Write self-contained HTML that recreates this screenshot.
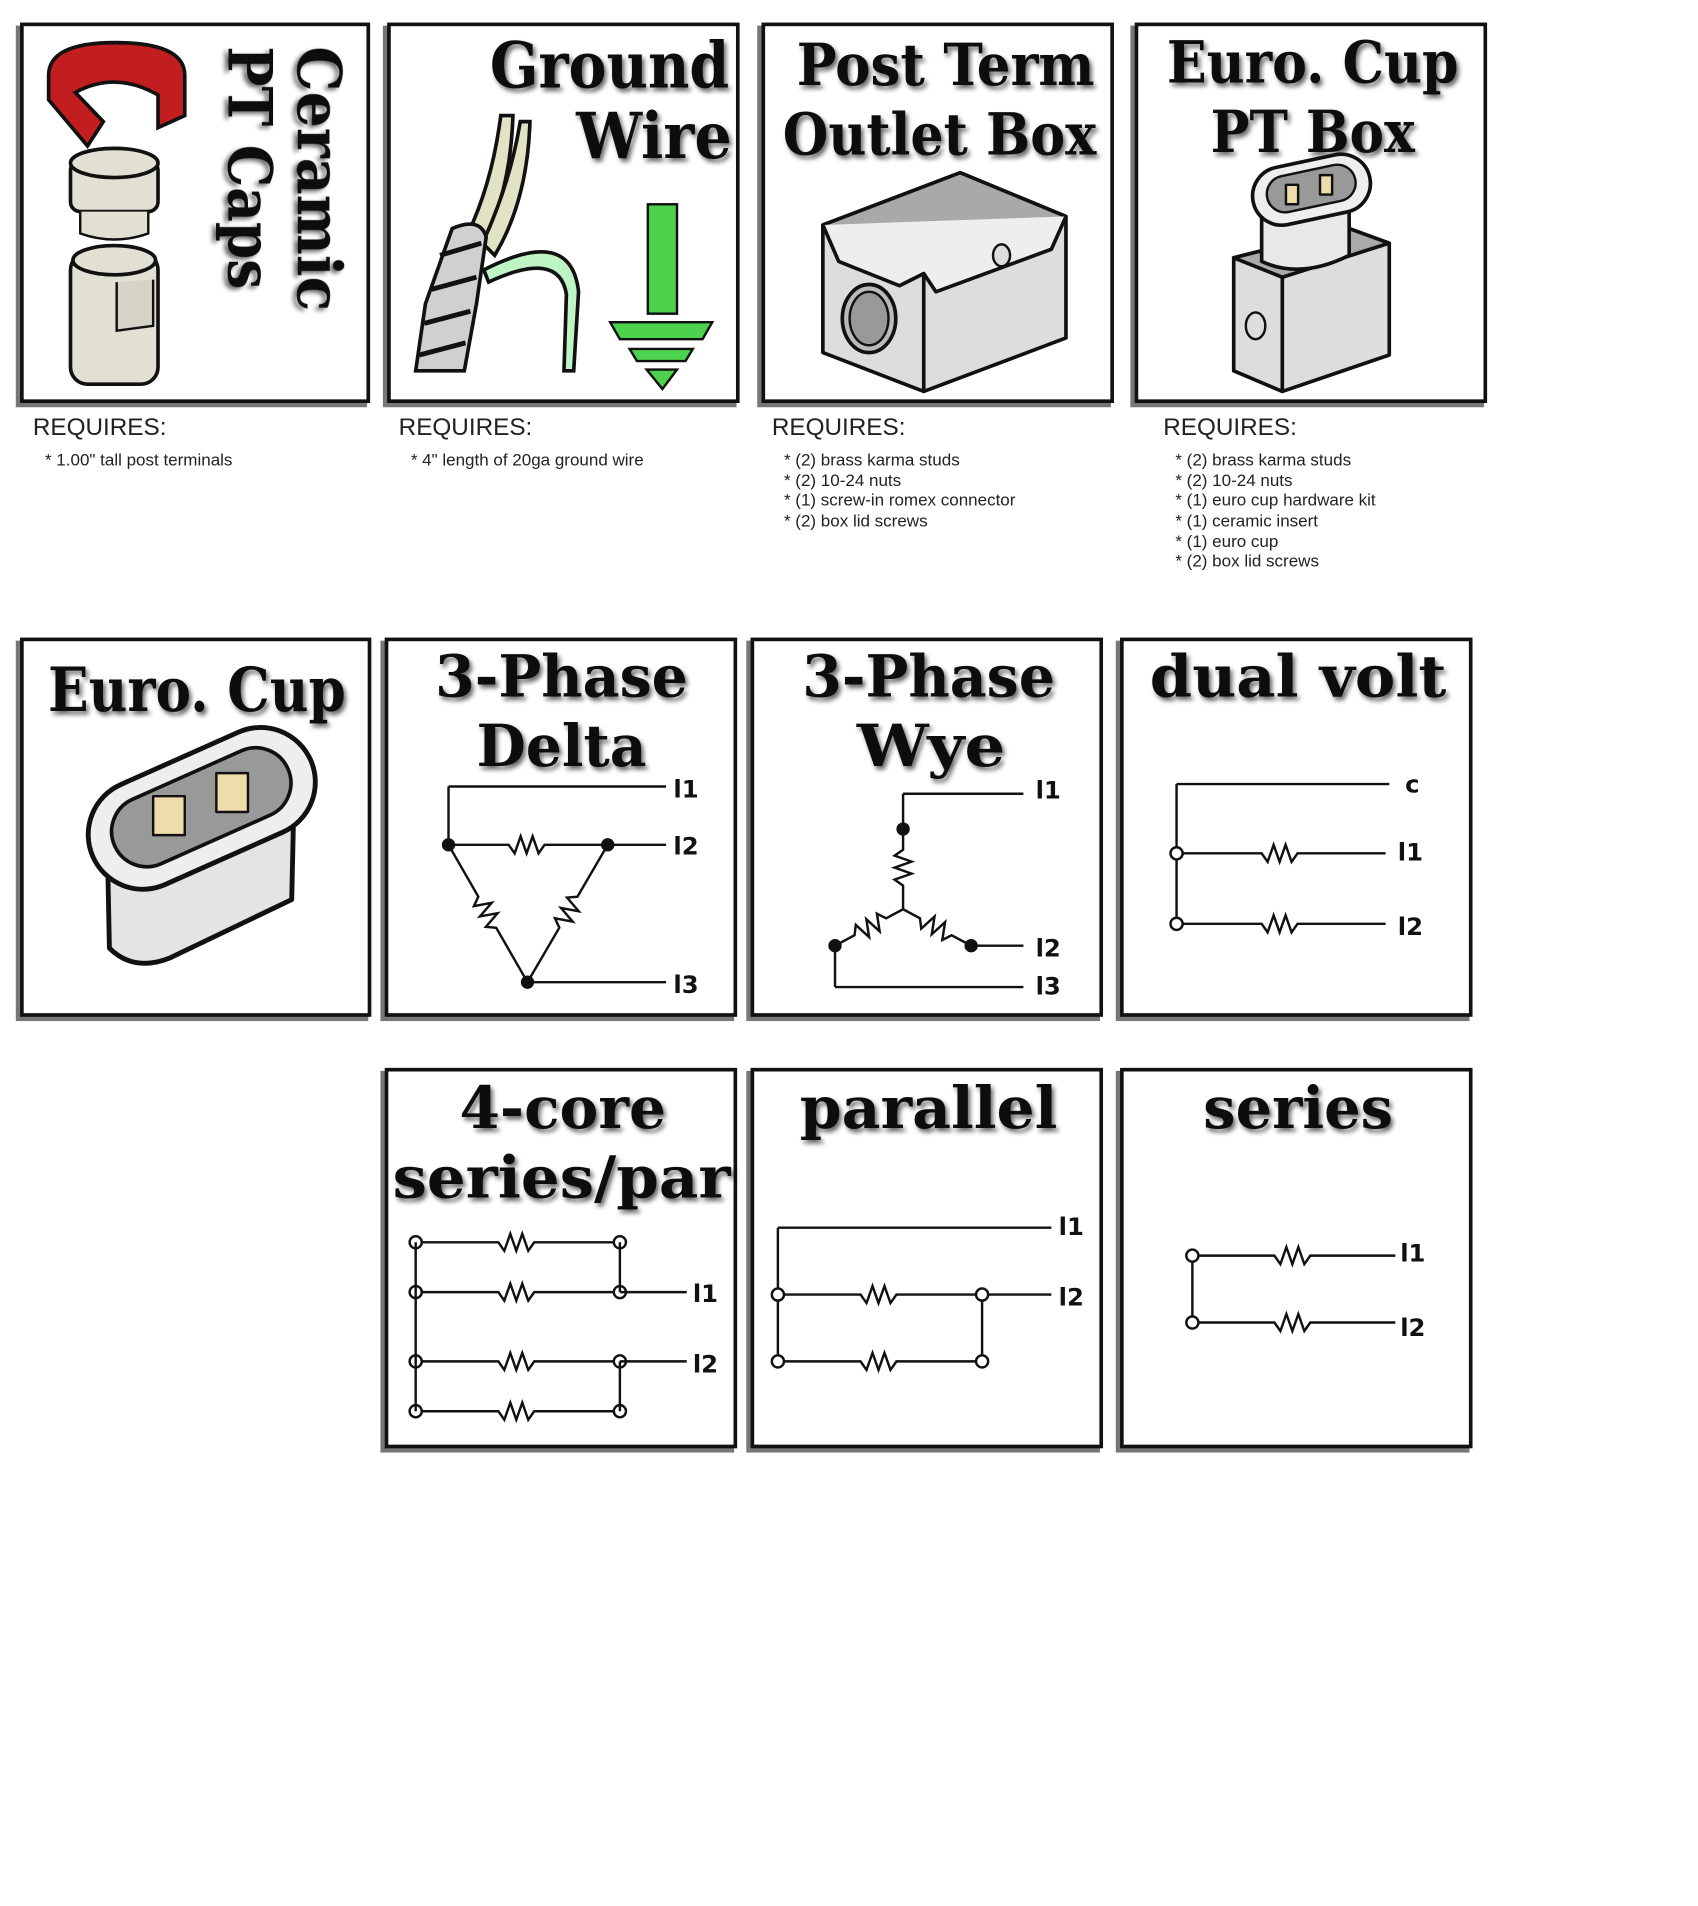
<!DOCTYPE html>
<html><head><meta charset="utf-8"><style>
html,body{margin:0;padding:0;background:#fff;}
svg{display:block;}
.t{font-family:"DejaVu Serif","Liberation Serif",serif;font-weight:bold;fill:#111;}
.r{font-family:"Liberation Sans","DejaVu Sans",sans-serif;fill:#222;}
.lb{font-family:"DejaVu Sans","Liberation Sans",sans-serif;font-weight:bold;fill:#111;font-size:20px;}
.w{stroke:#111;stroke-width:2;fill:none;}
</style></head><body>
<svg id="s" width="1698" height="1906" viewBox="0 0 1397 1568" xmlns="http://www.w3.org/2000/svg">
<defs>
<filter id="sh" x="-10%" y="-10%" width="130%" height="130%"><feGaussianBlur in="SourceAlpha" stdDeviation="2"/><feOffset dx="2" dy="3"/><feComponentTransfer><feFuncA type="linear" slope="0.6"/></feComponentTransfer><feMerge><feMergeNode/><feMergeNode in="SourceGraphic"/></feMerge></filter>
</defs>
<g id="cards"></g>

<!-- Card 1: ceramic caps -->
<g stroke="#111" stroke-width="3">
<path d="M40,62 Q40,35 95,35 Q152,35 152,62 L152,95 L130,105 L130,78 Q95,58 62,76 L85,100 L72,120 L40,82 Z" fill="#c21d1f"/>
<path d="M62,76 Q95,58 130,78" fill="none" stroke-width="2"/>
<rect x="58" y="132" width="72" height="42" rx="8" fill="#e2e0d3"/>
<ellipse cx="94" cy="134" rx="36" ry="12" fill="#e2e0d3"/>
<path d="M66,174 L66,192 Q94,202 122,192 L122,174" fill="#e2e0d3" stroke-width="2"/>
<rect x="58" y="208" width="72" height="108" rx="14" fill="#e2e0d3"/>
<ellipse cx="94" cy="214" rx="34" ry="12" fill="#e2e0d3"/>
<path d="M96,232 L96,272 L126,268 L126,230" fill="#d6d4c6" stroke-width="2"/>
</g>
<text class="t" font-size="50" transform="translate(245,38) rotate(90)" textLength="218" lengthAdjust="spacingAndGlyphs" filter="url(#sh)">Ceramic</text>
<text class="t" font-size="50" transform="translate(188,38) rotate(90)" textLength="200" lengthAdjust="spacingAndGlyphs" filter="url(#sh)">PT Caps</text>

<!-- Card 2: ground wire -->
<text class="t" font-size="52" x="600" y="72" text-anchor="end" textLength="197" lengthAdjust="spacingAndGlyphs" filter="url(#sh)">Ground</text>
<text class="t" font-size="52" x="602" y="130" text-anchor="end" textLength="128" lengthAdjust="spacingAndGlyphs" filter="url(#sh)">Wire</text>
<g stroke="#111" stroke-width="3">
<path d="M385,192 Q405,150 412,95 L422,95 Q420,160 395,205 Z" fill="#e2e2c4"/>
<path d="M397,200 Q420,150 428,100 L436,100 Q434,165 407,210 Z" fill="#e2e2c4"/>
<path d="M372,188 Q395,178 400,195 L392,250 L382,305 L342,305 L350,250 Z" fill="#d0d0d0"/>
<path d="M398,222 Q470,185 476,240 L472,305 L464,305 L466,242 Q460,205 402,232 Z" fill="#bff5c5"/>
<path d="M362,210 L396,200 M355,238 L392,228 M349,266 L387,256 M345,292 L383,282" stroke-width="4"/>
<rect x="533" y="168" width="24" height="90" fill="#4cd24c" stroke-width="2"/>
<path d="M502,265 L586,265 L578,279 L510,279 Z M518,287 L570,287 L564,297 L524,297 Z M532,304 L557,304 L545,320 Z" fill="#4cd24c" stroke-width="2"/>
</g>

<!-- Card 3: outlet box -->
<text class="t" font-size="48" x="778" y="70" text-anchor="middle" textLength="245" lengthAdjust="spacingAndGlyphs" filter="url(#sh)">Post Term</text>
<text class="t" font-size="48" x="773" y="127" text-anchor="middle" textLength="258" lengthAdjust="spacingAndGlyphs" filter="url(#sh)">Outlet Box</text>
<g stroke="#111" stroke-width="3" stroke-linejoin="round">
<path d="M677,185 L790,142 L877,178 L877,278 L760,322 L677,290 Z" fill="#ddd"/>
<path d="M677,185 L790,142 L877,178 L760,225 Z" fill="#a9a9a9"/>
<path d="M760,225 L760,322" />
<path d="M677,185 L690,215 L740,235 L760,225 L770,240 L865,205 L877,178" fill="#eee"/>
<ellipse cx="715" cy="262" rx="22" ry="28" fill="#bbb"/>
<ellipse cx="715" cy="262" rx="16" ry="22" fill="#999" stroke-width="2"/>
<ellipse cx="824" cy="210" rx="7" ry="9" fill="#ddd" stroke-width="2"/>
</g>

<!-- Card 4: euro cup PT box -->
<text class="t" font-size="48" x="1080" y="68" text-anchor="middle" textLength="240" lengthAdjust="spacingAndGlyphs" filter="url(#sh)">Euro. Cup</text>
<text class="t" font-size="48" x="1080" y="125" text-anchor="middle" textLength="168" lengthAdjust="spacingAndGlyphs" filter="url(#sh)">PT Box</text>
<g stroke="#111" stroke-width="3" stroke-linejoin="round">
<path d="M1015,212 L1110,188 L1143,200 L1143,292 L1055,322 L1015,305 Z" fill="#ddd"/>
<path d="M1015,212 L1110,188 L1143,200 L1055,228 Z" fill="#aaa"/>
<path d="M1055,228 L1055,322"/>
<path d="M1038,160 L1038,215 Q1070,230 1110,210 L1110,150 Z" fill="#e8e8e8"/>
<rect x="1030" y="132" width="98" height="48" rx="24" transform="rotate(-12 1079 156)" fill="#eee"/>
<rect x="1042" y="140" width="74" height="30" rx="15" transform="rotate(-12 1079 156)" fill="#999" stroke-width="2"/>
<rect x="1058" y="152" width="10" height="16" fill="#eedcab" stroke-width="2"/>
<rect x="1086" y="144" width="10" height="16" fill="#eedcab" stroke-width="2"/>
<ellipse cx="1033" cy="268" rx="8" ry="11" fill="#ddd" stroke-width="2"/>
</g>

<!-- requires text -->
<g class="r">
<text x="27" y="358" font-size="20">REQUIRES:</text>
<text x="37" y="383" font-size="14">* 1.00" tall post terminals</text>
</g>
<g class="r">
<text x="328" y="358" font-size="20">REQUIRES:</text>
<text x="338" y="383" font-size="14">* 4" length of 20ga ground wire</text>
</g>
<g class="r">
<text x="635" y="358" font-size="20">REQUIRES:</text>
<text x="645" y="383" font-size="14">* (2) brass karma studs</text>
<text x="645" y="400" font-size="14">* (2) 10-24 nuts</text>
<text x="645" y="416" font-size="14">* (1) screw-in romex connector</text>
<text x="645" y="433" font-size="14">* (2) box lid screws</text>
</g>
<g class="r">
<text x="957" y="358" font-size="20">REQUIRES:</text>
<text x="967" y="383" font-size="14">* (2) brass karma studs</text>
<text x="967" y="400" font-size="14">* (2) 10-24 nuts</text>
<text x="967" y="416" font-size="14">* (1) euro cup hardware kit</text>
<text x="967" y="433" font-size="14">* (1) ceramic insert</text>
<text x="967" y="450" font-size="14">* (1) euro cup</text>
<text x="967" y="466" font-size="14">* (2) box lid screws</text>
</g>

<!-- Row 2 -->
<text class="t" font-size="50" x="162" y="585" text-anchor="middle" textLength="245" lengthAdjust="spacingAndGlyphs" filter="url(#sh)">Euro. Cup</text>
<g stroke="#111" stroke-width="4" stroke-linejoin="round">
<path d="M88,680 L90,780 Q110,800 140,788 L240,740 L242,650 Z" fill="#e4e4e4"/>
<rect x="68" y="620" width="196" height="90" rx="45" transform="rotate(-24 166 665)" fill="#eee"/>
<rect x="88" y="635" width="156" height="58" rx="29" transform="rotate(-24 166 665)" fill="#999" stroke-width="3"/>
<rect x="126" y="655" width="26" height="32" fill="#eedcab" stroke-width="2"/>
<rect x="178" y="636" width="26" height="32" fill="#eedcab" stroke-width="2"/>
</g>
<text class="t" font-size="48" x="462" y="573" text-anchor="middle" textLength="208" lengthAdjust="spacingAndGlyphs" filter="url(#sh)">3-Phase</text>
<text class="t" font-size="48" x="462" y="630" text-anchor="middle" textLength="140" lengthAdjust="spacingAndGlyphs" filter="url(#sh)">Delta</text>
<text class="t" font-size="48" x="764" y="573" text-anchor="middle" textLength="208" lengthAdjust="spacingAndGlyphs" filter="url(#sh)">3-Phase</text>
<text class="t" font-size="48" x="766" y="630" text-anchor="middle" textLength="122" lengthAdjust="spacingAndGlyphs" filter="url(#sh)">Wye</text>
<text class="t" font-size="48" x="1068" y="573" text-anchor="middle" textLength="244" lengthAdjust="spacingAndGlyphs" filter="url(#sh)">dual volt</text>

<!-- Row 3 -->
<text class="t" font-size="48" x="463" y="928" text-anchor="middle" textLength="170" lengthAdjust="spacingAndGlyphs" filter="url(#sh)">4-core</text>
<text class="t" font-size="48" x="462" y="985" text-anchor="middle" textLength="278" lengthAdjust="spacingAndGlyphs" filter="url(#sh)">series/par</text>
<text class="t" font-size="48" x="764" y="928" text-anchor="middle" textLength="212" lengthAdjust="spacingAndGlyphs" filter="url(#sh)">parallel</text>
<text class="t" font-size="48" x="1068" y="928" text-anchor="middle" textLength="156" lengthAdjust="spacingAndGlyphs" filter="url(#sh)">series</text>

<g id="circ" class="w"></g>
<g id="labs"></g>
</svg>
<script>
var NS='http://www.w3.org/2000/svg';
var cardBoxes=[[18,20,285,310],[320,20,287,310],[628,20,287,310],[935,20,287,310],
[18,526,286,309],[318,526,287,309],[619,526,287,309],[923,526,287,309],
[318,880,287,310],[619,880,287,310],[923,880,287,310]];
var cardNames=['ceramic-caps-card','ground-wire-card','outlet-box-card','euro-cup-pt-box-card','euro-cup-card','delta-card','wye-card','dual-volt-card','four-core-card','parallel-card','series-card'];
var cg=document.getElementById('cards');
cardBoxes.forEach(function(b,i){
  var s=document.createElementNS(NS,'rect');
  s.setAttribute('x',b[0]-3);s.setAttribute('y',b[1]+3);s.setAttribute('width',b[2]);s.setAttribute('height',b[3]);
  s.setAttribute('fill','none');s.setAttribute('stroke','#777');s.setAttribute('stroke-width','4');
  
  
  cg.appendChild(s);
  var r=document.createElementNS(NS,'rect');
  r.setAttribute('x',b[0]);r.setAttribute('y',b[1]);r.setAttribute('width',b[2]);r.setAttribute('height',b[3]);
  r.setAttribute('fill','#fff');r.setAttribute('stroke','#111');r.setAttribute('stroke-width','3');
  
  
  cg.appendChild(r);
});
var g=document.getElementById('circ');
function path(d,name){var p=document.createElementNS(NS,'path');p.setAttribute('d',d);
  
  
  g.appendChild(p);}
function zig(x1,y1,x2,y2){
  var dx=x2-x1,dy=y2-y1,L=Math.hypot(dx,dy),ux=dx/L,uy=dy/L,nx=-uy,ny=ux;
  var mid=L/2,half=16,d='M'+x1+','+y1;
  var a=mid-half;d+=' L'+(x1+ux*a)+','+(y1+uy*a);
  for(var k=1;k<=6;k++){var t=a+k*(2*half/6.5);var o=(k%2?7:-7);if(k==6)o=0;
    d+=' L'+(x1+ux*t+nx*o)+','+(y1+uy*t+ny*o);}
  d+=' L'+x2+','+y2;return d;}
function res(x1,y1,x2,y2){path(zig(x1,y1,x2,y2),'resistor');}
function line(x1,y1,x2,y2){path('M'+x1+','+y1+' L'+x2+','+y2,'wire');}
function dot(x,y,open){var c=document.createElementNS(NS,'circle');c.setAttribute('cx',x);c.setAttribute('cy',y);c.setAttribute('r',open?5:4.5);
  c.setAttribute('fill',open?'#fff':'#111');
  
  
  g.appendChild(c);}
function lab(x,y,t){var e=document.createElementNS(NS,'text');e.setAttribute('x',x);e.setAttribute('y',y);e.setAttribute('class','lb');e.textContent=t;
  
  
  document.getElementById('labs').appendChild(e);}
line(369,695,369,647);line(369,647,548,647);res(369,695,500,695);line(500,695,548,695);
res(369,695,434,808);res(500,695,434,808);line(434,808,548,808);
dot(369,695);dot(500,695);dot(434,808);
lab(554,656,'l1');lab(554,703,'l2');lab(554,817,'l3');
line(743,682,743,653);line(743,653,842,653);res(743,682,743,748);res(743,748,687,778);res(743,748,799,778);
line(799,778,842,778);line(687,778,687,812);line(687,812,842,812);
dot(743,682);dot(687,778);dot(799,778);
lab(852,657,'l1');lab(852,787,'l2');lab(852,818,'l3');
line(968,645,1143,645);line(968,645,968,760);res(968,702,1140,702);res(968,760,1140,760);
dot(968,702,1);dot(968,760,1);
lab(1156,652,'c');lab(1150,708,'l1');lab(1150,769,'l2');
[1022,1063,1120,1161].forEach(function(y){res(342,y,510,y);dot(342,y,1);dot(510,y,1);});
line(342,1022,342,1161);line(510,1022,510,1063);line(510,1120,510,1161);
line(510,1063,565,1063);line(510,1120,565,1120);
lab(570,1071,'l1');lab(570,1129,'l2');
line(640,1010,865,1010);line(640,1010,640,1120);res(640,1065,808,1065);res(640,1120,808,1120);
line(808,1065,808,1120);line(808,1065,865,1065);
dot(640,1065,1);dot(640,1120,1);dot(808,1065,1);dot(808,1120,1);
lab(871,1016,'l1');lab(871,1074,'l2');
res(981,1033,1148,1033);res(981,1088,1148,1088);line(981,1033,981,1088);dot(981,1033,1);dot(981,1088,1);
lab(1152,1038,'l1');lab(1152,1099,'l2');
</script>
</body></html>
